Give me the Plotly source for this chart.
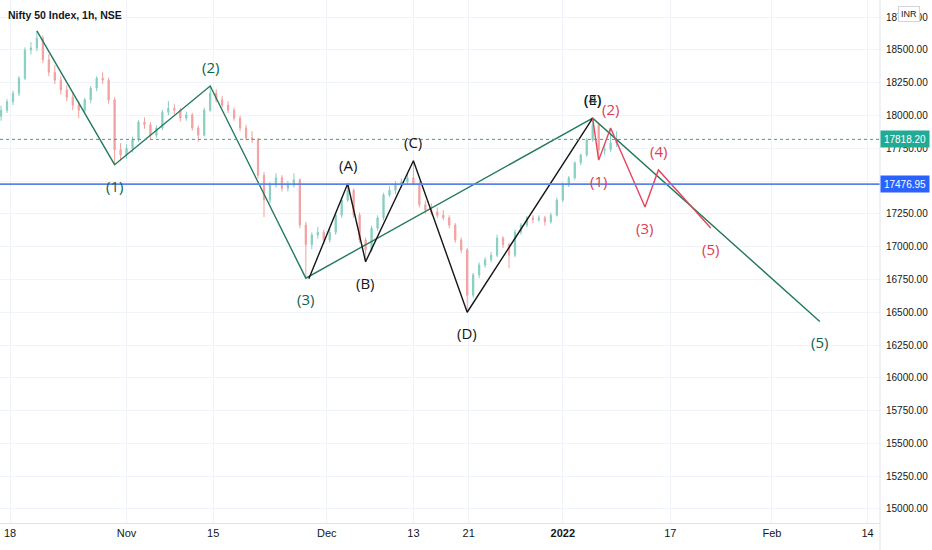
import plotly.graph_objects as go

# hourly bars of Nifty 50, every 4th bar shown (bar 0 = 18 Oct 09:15)
bar_idx = list(range(-6, 410, 4))

opens = [17995, 18040, 18105, 18170, 18285, 18500, 18515, 18590, 18425, 18330,
         18270, 18195, 18140, 18080, 18040, 18120, 18210, 18285, 18270, 18120,
         17740, 17700, 17750, 17815, 17950, 17930, 17850, 17905, 18025, 18055,
         18040, 17980, 18005, 17905, 17850, 18040, 18170, 18120, 18080, 18040,
         17980, 17905, 17830, 17815, 17545, 17355, 17470, 17525, 17445, 17470,
         17510, 17165, 17015, 17090, 17110, 17050, 17110, 17240, 17355, 17430,
         17240, 17050, 16975, 17140, 17220, 17395, 17430, 17470, 17495, 17525,
         17480, 17320, 17280, 17265, 17240, 17220, 17165, 17050, 16975, 16630,
         16785, 16860, 16900, 16935, 17065, 17015, 16935, 17110, 17165, 17220,
         17205, 17220, 17190, 17240, 17355, 17470, 17525, 17640, 17700, 17815,
         17930, 17735, 17740, 17790]
highs = [18075, 18125, 18190, 18300, 18520, 18560, 18645, 18610, 18470, 18385,
         18300, 18230, 18170, 18110, 18135, 18225, 18300, 18330, 18290, 18140,
         17790, 17780, 17840, 17965, 17985, 17950, 17925, 18045, 18110, 18085,
         18060, 18030, 18020, 17925, 18060, 18225, 18200, 18150, 18110, 18060,
         18000, 17930, 17880, 17830, 17570, 17490, 17560, 17545, 17500, 17560,
         17520, 17190, 17110, 17150, 17130, 17140, 17260, 17370, 17480, 17445,
         17260, 17070, 17160, 17240, 17410, 17460, 17500, 17520, 17560, 17655,
         17500, 17350, 17330, 17300, 17280, 17240, 17180, 17070, 16990, 16800,
         16880, 16920, 16960, 17090, 17080, 17030, 17130, 17180, 17235, 17240,
         17240, 17235, 17260, 17375, 17490, 17540, 17650, 17710, 17830, 17980,
         17945, 17780, 17905, 17880]
lows = [17960, 18020, 18080, 18150, 18270, 18465, 18490, 18400, 18300, 18240,
        18160, 18110, 18040, 17980, 18020, 18095, 18185, 18240, 18090, 17625,
        17660, 17670, 17720, 17800, 17900, 17820, 17830, 17890, 18000, 18010,
        17955, 17960, 17885, 17800, 17840, 18030, 18100, 18060, 18020, 17960,
        17880, 17810, 17790, 17520, 17225, 17330, 17450, 17420, 17420, 17450,
        17140, 16760, 16980, 17060, 17020, 17030, 17090, 17220, 17340, 17220,
        17030, 16885, 16960, 17120, 17200, 17380, 17400, 17450, 17470, 17500,
        17300, 17250, 17240, 17220, 17200, 17140, 17030, 16950, 16500, 16610,
        16760, 16840, 16880, 16920, 16990, 16835, 16920, 17090, 17150, 17180,
        17190, 17160, 17175, 17230, 17340, 17455, 17510, 17620, 17685, 17800,
        17660, 17700, 17720, 17760]
closes = [18040, 18105, 18170, 18285, 18500, 18515, 18590, 18425, 18330, 18270,
          18195, 18140, 18080, 18040, 18120, 18210, 18285, 18270, 18120, 17740,
          17700, 17750, 17815, 17950, 17930, 17850, 17905, 18025, 18055, 18040,
          17980, 18005, 17905, 17850, 18040, 18170, 18120, 18080, 18040, 17980,
          17905, 17830, 17815, 17545, 17355, 17470, 17525, 17445, 17470, 17510,
          17165, 17015, 17090, 17110, 17050, 17110, 17240, 17355, 17430, 17240,
          17050, 16975, 17140, 17220, 17395, 17430, 17470, 17495, 17525, 17480,
          17320, 17280, 17265, 17240, 17220, 17165, 17050, 16975, 16630, 16785,
          16860, 16900, 16935, 17065, 17015, 16935, 17110, 17165, 17220, 17205,
          17220, 17190, 17240, 17355, 17470, 17525, 17640, 17700, 17815, 17930,
          17735, 17740, 17790, 17818.20]

# elliott wave pivots (bar index, price)
green_x = [18, 70, 134, 198, 390, 542]
green_y = [18645, 17625, 18225, 16760, 17980, 16430]
green_lbl = ["", "(1)", "(2)", "(3)", "(4)", "(5)"]

black_x = [200, 226, 238, 270, 306, 390]
black_y = [16755, 17480, 16885, 17655, 16500, 17980]
black_lbl = ["", "(A)", "(B)", "(C)", "(D)", "(E)"]

red_x = [390, 394, 402, 425, 434, 469]
red_y = [17980, 17660, 17905, 17302, 17585, 17142]
red_lbl = ["", "(1)", "(2)", "(3)", "(4)", "(5)"]

date_pos = [0, 78, 136, 212, 270, 307, 370, 442, 510, 574]
date_txt = ["18", "Nov", "15", "Dec", "13", "21", "<b>2022</b>", "17", "Feb", "14"]

last_price = 17818.20
hline_price = 17476.95

FONT = "Liberation Sans, Arial, sans-serif"

fig = go.Figure()
fig.add_trace(go.Candlestick(
    x=bar_idx, open=opens, high=highs, low=lows, close=closes,
    increasing=dict(line=dict(color="#86cfc2", width=1), fillcolor="#86cfc2"),
    decreasing=dict(line=dict(color="#f3a0a0", width=1), fillcolor="#f3a0a0"),
    showlegend=False, hoverinfo="skip"))

waves = [(green_x, green_y, green_lbl, "#237a5c", "#0f6150"),
         (black_x, black_y, black_lbl, "#161616", "#161616"),
         (red_x, red_y, red_lbl, "#e8435c", "#e23b55")]
annos = []
for xs, ys, lbls, lc, tc in waves:
    fig.add_trace(go.Scatter(x=xs, y=ys, mode="lines", line=dict(color=lc, width=1.4),
                             showlegend=False, hoverinfo="skip"))
    for i in range(1, len(xs)):
        up = ys[i] > ys[i - 1]
        annos.append(dict(x=xs[i], y=ys[i], text=lbls[i], showarrow=False,
                          yshift=19 if up else -21,
                          font=dict(family="Open Sans, Noto Sans", size=15, color=tc)))

# price tags on the scale
for price, col in [(last_price, "#22ab94"), (hline_price, "#2962ff")]:
    annos.append(dict(xref="paper", x=1, xanchor="left", y=price, text=f"{price:.2f}",
                      showarrow=False, bgcolor=col, width=46, height=14, borderpad=1,
                      font=dict(family=FONT, size=10, color="white")))

annos.append(dict(xref="paper", yref="paper", x=0.007, y=1, xanchor="left", yanchor="top",
                  yshift=-7, text="Nifty 50 Index, 1h, NSE", showarrow=False,
                  font=dict(family=FONT, size=10.5, color="#131722", weight=600)))
annos.append(dict(xref="paper", yref="paper", x=1.045, y=0.973, xanchor="right",
                  yanchor="middle", text="INR", showarrow=False,
                  bgcolor="white", bordercolor="#d1d4dc", borderwidth=1, borderpad=2,
                  font=dict(family=FONT, size=9, color="#131722")))

shapes = [
    dict(type="line", xref="paper", x0=0, x1=1, y0=last_price, y1=last_price,
         line=dict(color="#22ab94", width=1, dash="dot")),
    dict(type="line", xref="paper", x0=0, x1=1, y0=hline_price, y1=hline_price,
         line=dict(color="#5b80f0", width=1.6)),
    dict(type="line", xref="paper", yref="paper", x0=1, x1=1, y0=-0.06, y1=1,
         line=dict(color="#e0e3eb", width=1)),
]

fig.update_layout(
    width=932, height=550,
    margin=dict(l=0, r=52, t=0, b=27),
    plot_bgcolor="white", paper_bgcolor="white",
    annotations=annos, shapes=shapes, boxgap=0.7,
    xaxis=dict(range=[-6.7, 582.3], tickvals=date_pos, ticktext=date_txt,
               showgrid=True, gridcolor="#f0f3fa", zeroline=False,
               showline=True, linecolor="#e0e3eb", ticks="", automargin=False,
               rangeslider=dict(visible=False),
               tickfont=dict(family=FONT, size=11, color="#131722")),
    yaxis=dict(range=[14893, 18881], side="right", dtick=250, tick0=15000,
               tickformat=".2f", showgrid=True, gridcolor="#f0f3fa", zeroline=False,
               ticks="", ticklabelstandoff=5, automargin=False,
               tickfont=dict(family=FONT, size=10, color="#131722")),
)

# the page body carries a default 8px margin; drop it so the chart fills the window
fig.write_html("out.html", config={"displayModeBar": False},
               post_script="document.body.style.margin='0';")
